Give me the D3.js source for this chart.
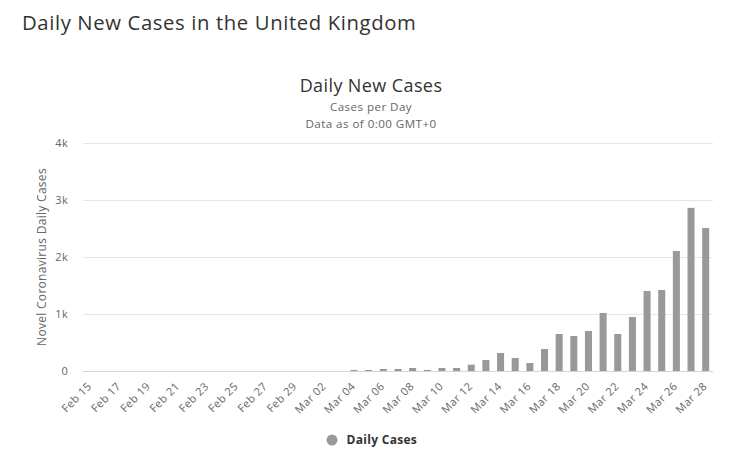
<!DOCTYPE html>
<html><head><meta charset="utf-8">
<script src="https://cdn.jsdelivr.net/npm/d3@7"></script>
<style>body{margin:0;background:#fff;} svg{display:block;}</style>
</head><body>
<svg id="c" width="730" height="469"></svg>
<script>
const dates = ["Feb 15","Feb 16","Feb 17","Feb 18","Feb 19","Feb 20","Feb 21","Feb 22","Feb 23","Feb 24","Feb 25","Feb 26","Feb 27","Feb 28","Feb 29",
"Mar 01","Mar 02","Mar 03","Mar 04","Mar 05","Mar 06","Mar 07","Mar 08","Mar 09","Mar 10","Mar 11","Mar 12","Mar 13","Mar 14","Mar 15","Mar 16","Mar 17","Mar 18","Mar 19","Mar 20","Mar 21","Mar 22","Mar 23","Mar 24","Mar 25","Mar 26","Mar 27","Mar 28"];
const dailyCases = [0,0,0,0,0,0,0,0,0,0,0,0,0,0,0,
0,0,0,18,18,35,35,53,18,53,53,111,193,316,228,140,386,649,614,702,1018,649,947,1404,1421,2106,2862,2510];
const yTicks = [0,1000,2000,3000,4000];
const yTickLabels = ["0","1k","2k","3k","4k"];
const seriesName = "Daily Cases";

const svg = d3.select("#c");
const font = "'Open Sans', 'DejaVu Sans', sans-serif";
const m = {l:83, r:17, t:143, b:98};
const W = 730, H = 469;
const x = d3.scaleBand().domain(dates).range([m.l, W - m.r]).paddingInner(0.52).paddingOuter(0.26);
const y = d3.scaleLinear().domain([0,4000]).range([H - m.b, m.t]);

svg.append("text").attr("x",22).attr("y",30).attr("font-family",font).attr("font-size",20.3).attr("letter-spacing",0.62).attr("fill","#333")
  .text("Daily New Cases in the United Kingdom");
svg.append("text").attr("x",371).attr("y",92).attr("text-anchor","middle").attr("font-family",font).attr("font-size",18).attr("letter-spacing",0.4).attr("fill","#333")
  .text("Daily New Cases");
svg.append("text").attr("x",371).attr("y",111).attr("text-anchor","middle").attr("font-family",font).attr("font-size",11.6).attr("letter-spacing",0.45).attr("fill","#666")
  .text("Cases per Day");
svg.append("text").attr("x",371).attr("y",127.5).attr("text-anchor","middle").attr("font-family",font).attr("font-size",11.6).attr("letter-spacing",0.45).attr("fill","#666")
  .text("Data as of 0:00 GMT+0");

// gridlines
const yAxis = d3.axisLeft(y).tickValues(yTicks).tickFormat((d,i)=>yTickLabels[i]).tickSize(-(W - m.r - m.l)).tickPadding(15);
const gy = svg.append("g").attr("transform",`translate(${m.l},0)`).call(yAxis);
gy.select(".domain").remove();
gy.selectAll(".tick line").attr("stroke","#e6e6e6");
gy.selectAll(".tick text").attr("font-family",font).attr("font-size",11).attr("letter-spacing",0.3).attr("fill","#666");
gy.selectAll(".tick").filter(d=>d===0).select("line").remove();

// bars
svg.append("g").selectAll("rect").data(dailyCases).join("rect")
  .attr("x",(d,i)=>x(dates[i])).attr("width",x.bandwidth())
  .attr("y",d=>y(d)).attr("height",d=>y(0)-y(d)).attr("fill","#999");

// x axis
const xAxis = d3.axisBottom(x).tickValues(dates.filter((d,i)=>i%2===0)).tickSize(0).tickPadding(0);
const gx = svg.append("g").attr("transform",`translate(0,${y(0)})`).call(xAxis);
gx.select(".domain").attr("stroke","#ccd6eb").attr("d",`M${m.l},0.5H${W-m.r}`);
gx.selectAll(".tick text").attr("font-family",font).attr("font-size",11).attr("letter-spacing",0.45).attr("fill","#666")
  .attr("text-anchor","end").attr("dy",0).attr("transform","translate(2,16) rotate(-45)");

// y title
svg.append("text").attr("transform",`translate(46,257) rotate(-90)`).attr("text-anchor","middle")
  .attr("font-family",font).attr("font-size",12).attr("letter-spacing",0.3).attr("fill","#666").text("Novel Coronavirus Daily Cases");

// legend
svg.append("circle").attr("cx",332).attr("cy",440).attr("r",5.5).attr("fill","#999");
svg.append("text").attr("x",346.5).attr("y",444).attr("font-family",font).attr("font-size",12).attr("font-weight","bold").attr("letter-spacing",0.3).attr("fill","#333").text(seriesName);
</script>
</body></html>
